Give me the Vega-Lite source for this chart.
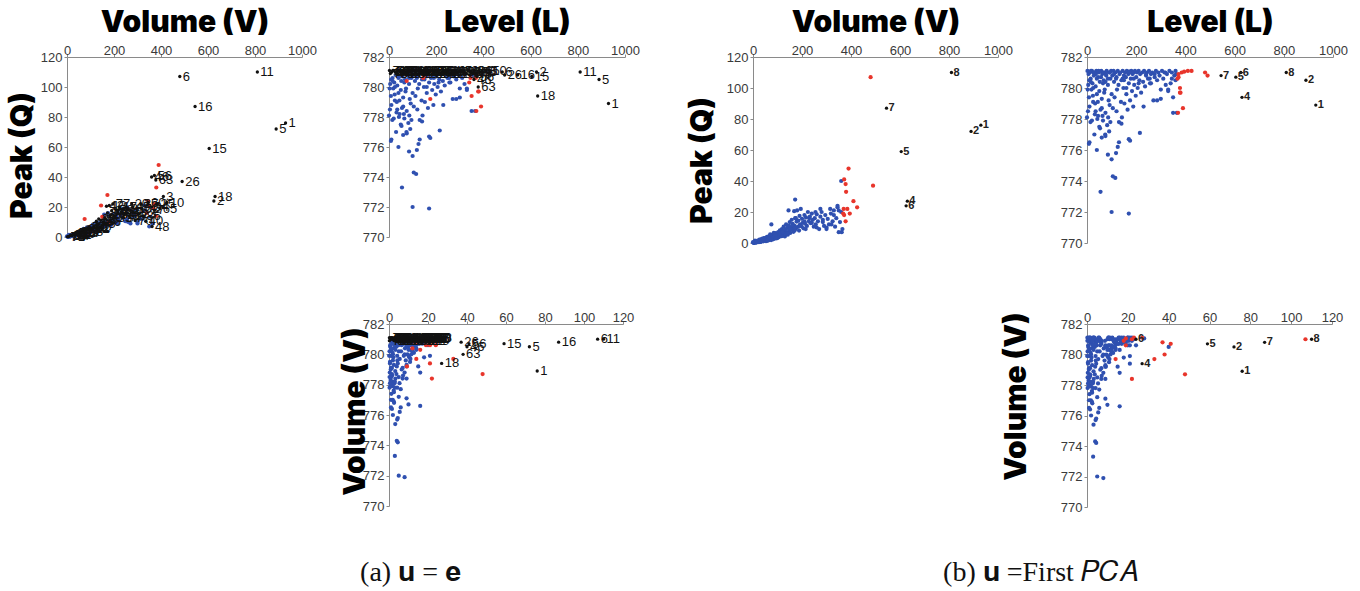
{
  "$schema": "https://vega.github.io/schema/vega-lite/v6.json",
  "padding": {"left": 7, "top": 7, "right": 0, "bottom": 0},
  "background": "white",
  "config": {
    "view": {"stroke": null},
    "axis": {
      "grid": false,
      "domainColor": "#8a8a8a",
      "tickColor": "#8a8a8a",
      "tickSize": 3,
      "labelFont": "Liberation Sans",
      "labelFontSize": 13,
      "labelColor": "#3a3a3a",
      "labelPadding": 2,
      "labelFlush": false,
      "labelOverlap": false,
      "format": "d",
      "titleFont": "Inter",
      "titleFontWeight": 900,
      "titleFontSize": 30,
      "titleColor": "#000000",
      "titlePadding": 4
    },
    "axisTop": {"labelPadding": -3, "titlePadding": 7}
  },
  "datasets": {
    "pts": [
      {"v":2,"q":0.2,"l":781.1,"a":"o","b":"n","ta":"71"},
      {"v":5,"q":0.3,"l":780.2,"a":"n","b":"n"},
      {"v":8,"q":0.5,"l":779.4,"a":"n","b":"n"},
      {"v":10,"q":0.4,"l":778.8,"a":"n","b":"n"},
      {"v":12,"q":0.8,"l":781.0,"a":"o","b":"n","ta":"39"},
      {"v":15,"q":0.6,"l":780.6,"a":"n","b":"n"},
      {"v":18,"q":1.0,"l":779.9,"a":"n","b":"n"},
      {"v":20,"q":0.9,"l":781.1,"a":"o","b":"n","ta":"54"},
      {"v":22,"q":1.2,"l":780.3,"a":"n","b":"n"},
      {"v":25,"q":1.0,"l":779.1,"a":"n","b":"n"},
      {"v":28,"q":1.5,"l":780.8,"a":"n","b":"n"},
      {"v":30,"q":1.3,"l":781.0,"a":"o","b":"n","ta":"82"},
      {"v":32,"q":0.8,"l":778.3,"a":"n","b":"n"},
      {"v":35,"q":1.8,"l":780.1,"a":"n","b":"n"},
      {"v":38,"q":1.6,"l":781.1,"a":"o","b":"n","ta":"47"},
      {"v":40,"q":2.0,"l":779.6,"a":"n","b":"n"},
      {"v":42,"q":1.1,"l":778.0,"a":"n","b":"n"},
      {"v":45,"q":2.4,"l":780.7,"a":"n","b":"n"},
      {"v":48,"q":1.9,"l":781.0,"a":"o","b":"n","ta":"90"},
      {"v":50,"q":2.2,"l":779.8,"a":"n","b":"n"},
      {"v":52,"q":2.8,"l":780.4,"a":"n","b":"n"},
      {"v":55,"q":1.6,"l":778.6,"a":"n","b":"n"},
      {"v":58,"q":3.0,"l":781.1,"a":"o","b":"n","ta":"33"},
      {"v":60,"q":2.5,"l":779.3,"a":"n","b":"n"},
      {"v":62,"q":3.4,"l":780.9,"a":"o","b":"n","ta":"68"},
      {"v":65,"q":2.0,"l":777.9,"a":"n","b":"n"},
      {"v":68,"q":3.8,"l":780.5,"a":"n","b":"n"},
      {"v":70,"q":2.9,"l":781.0,"a":"o","b":"n","ta":"27"},
      {"v":72,"q":4.2,"l":779.9,"a":"n","b":"n"},
      {"v":75,"q":3.3,"l":778.4,"a":"n","b":"n"},
      {"v":78,"q":4.6,"l":780.8,"a":"n","b":"n"},
      {"v":80,"q":3.6,"l":781.1,"a":"o","b":"n","ta":"58"},
      {"v":82,"q":2.4,"l":777.6,"a":"n","b":"n"},
      {"v":85,"q":5.0,"l":780.2,"a":"n","b":"n"},
      {"v":88,"q":4.0,"l":779.2,"a":"n","b":"n"},
      {"v":90,"q":5.5,"l":781.0,"a":"o","b":"n","ta":"44"},
      {"v":92,"q":3.2,"l":778.9,"a":"n","b":"n"},
      {"v":95,"q":4.8,"l":780.6,"a":"n","b":"n"},
      {"v":98,"q":6.0,"l":781.1,"a":"o","b":"n","ta":"19"},
      {"v":100,"q":4.3,"l":779.6,"a":"n","b":"n"},
      {"v":3,"q":0.1,"l":779.9,"a":"n","b":"n"},
      {"v":6,"q":0.2,"l":780.9,"a":"o","b":"n","ta":"75"},
      {"v":4,"q":0.3,"l":778.5,"a":"n","b":"n"},
      {"v":9,"q":0.6,"l":780.5,"a":"n","b":"n"},
      {"v":14,"q":0.3,"l":777.8,"a":"n","b":"n"},
      {"v":16,"q":1.4,"l":781.1,"a":"o","b":"n","ta":"62"},
      {"v":24,"q":0.5,"l":779.5,"a":"n","b":"n"},
      {"v":27,"q":2.2,"l":781.0,"a":"o","b":"n","ta":"38"},
      {"v":33,"q":0.9,"l":779.0,"a":"n","b":"n"},
      {"v":36,"q":2.6,"l":780.9,"a":"o","b":"n","ta":"51"},
      {"v":44,"q":1.5,"l":779.1,"a":"n","b":"n"},
      {"v":47,"q":3.2,"l":781.1,"a":"o","b":"n","ta":"29"},
      {"v":53,"q":1.2,"l":777.4,"a":"n","b":"n"},
      {"v":57,"q":3.9,"l":780.7,"a":"n","b":"n"},
      {"v":63,"q":1.8,"l":778.2,"a":"n","b":"n"},
      {"v":66,"q":4.5,"l":781.0,"a":"o","b":"n","ta":"83"},
      {"v":74,"q":1.9,"l":777.0,"a":"n","b":"n"},
      {"v":77,"q":5.2,"l":780.9,"a":"o","b":"n","ta":"36"},
      {"v":86,"q":2.8,"l":778.1,"a":"n","b":"n"},
      {"v":93,"q":6.4,"l":781.0,"a":"o","b":"n","ta":"57"},
      {"v":103,"q":7.0,"l":780.8,"a":"n","b":"n"},
      {"v":105,"q":3.8,"l":778.7,"a":"n","b":"n"},
      {"v":108,"q":5.6,"l":781.1,"a":"o","b":"n","ta":"12"},
      {"v":110,"q":8.2,"l":780.4,"a":"n","b":"n"},
      {"v":112,"q":4.5,"l":779.4,"a":"n","b":"n"},
      {"v":115,"q":6.6,"l":781.0,"a":"o","b":"n","ta":"85"},
      {"v":118,"q":9.0,"l":780.6,"a":"n","b":"n"},
      {"v":120,"q":5.0,"l":778.5,"a":"n","b":"n"},
      {"v":122,"q":7.6,"l":779.9,"a":"n","b":"n"},
      {"v":125,"q":10.5,"l":781.1,"a":"o","b":"n","ta":"41"},
      {"v":128,"q":6.2,"l":780.2,"a":"n","b":"n"},
      {"v":130,"q":4.2,"l":777.8,"a":"n","b":"n"},
      {"v":132,"q":8.8,"l":780.9,"a":"o","b":"n","ta":"73"},
      {"v":135,"q":12.0,"l":781.0,"a":"o","b":"n","ta":"22"},
      {"v":138,"q":7.0,"l":779.1,"a":"n","b":"n"},
      {"v":140,"q":9.8,"l":780.5,"a":"n","b":"n"},
      {"v":142,"q":5.4,"l":778.1,"a":"n","b":"n"},
      {"v":145,"q":11.2,"l":781.1,"a":"o","b":"n","ta":"95"},
      {"v":148,"q":8.0,"l":780.0,"a":"n","b":"n"},
      {"v":150,"q":13.5,"l":780.8,"a":"r","b":"n"},
      {"v":152,"q":6.5,"l":779.0,"a":"n","b":"n"},
      {"v":155,"q":10.0,"l":781.0,"a":"o","b":"n","ta":"66"},
      {"v":158,"q":15.0,"l":780.7,"a":"n","b":"n"},
      {"v":160,"q":8.6,"l":779.6,"a":"n","b":"n"},
      {"v":162,"q":12.4,"l":781.1,"a":"o","b":"n","ta":"30"},
      {"v":165,"q":7.2,"l":778.6,"a":"n","b":"n"},
      {"v":168,"q":20.5,"l":780.9,"a":"o","b":"n","ta":"42"},
      {"v":170,"q":11.0,"l":780.3,"a":"n","b":"n"},
      {"v":172,"q":16.0,"l":781.0,"a":"o","b":"n","ta":"87"},
      {"v":175,"q":9.2,"l":779.2,"a":"r","b":"n"},
      {"v":178,"q":13.8,"l":780.6,"a":"n","b":"n"},
      {"v":180,"q":21.0,"l":781.1,"a":"o","b":"n","ta":"13"},
      {"v":183,"q":10.4,"l":779.8,"a":"n","b":"n"},
      {"v":185,"q":14.5,"l":780.9,"a":"o","b":"n","ta":"59"},
      {"v":188,"q":8.0,"l":778.8,"a":"n","b":"n"},
      {"v":190,"q":17.5,"l":781.0,"a":"o","b":"n","ta":"24"},
      {"v":192,"q":12.0,"l":780.2,"a":"n","b":"n"},
      {"v":195,"q":22.0,"l":781.1,"a":"o","b":"n","ta":"77"},
      {"v":198,"q":10.8,"l":779.5,"a":"n","b":"n"},
      {"v":200,"q":15.6,"l":780.7,"a":"n","b":"n"},
      {"v":203,"q":13.0,"l":781.0,"a":"o","b":"n","ta":"35"},
      {"v":206,"q":9.5,"l":780.0,"a":"n","b":"n"},
      {"v":210,"q":18.0,"l":781.1,"a":"o","b":"n","ta":"53"},
      {"v":213,"q":12.5,"l":780.5,"a":"n","b":"n"},
      {"v":216,"q":16.5,"l":780.9,"a":"o","b":"n","ta":"92"},
      {"v":220,"q":11.0,"l":779.7,"a":"n","b":"n"},
      {"v":224,"q":20.0,"l":781.0,"a":"o","b":"n","ta":"17"},
      {"v":228,"q":14.0,"l":780.4,"a":"n","b":"n"},
      {"v":232,"q":17.0,"l":781.1,"a":"o","b":"n","ta":"64"},
      {"v":236,"q":12.8,"l":780.1,"a":"n","b":"n"},
      {"v":240,"q":19.0,"l":780.8,"a":"n","b":"n"},
      {"v":244,"q":15.0,"l":781.0,"a":"o","b":"n","ta":"28"},
      {"v":248,"q":10.5,"l":780.6,"a":"n","b":"n"},
      {"v":172,"q":28.0,"l":781.05,"a":"r","b":"n"},
      {"v":145,"q":21.0,"l":780.6,"a":"r","b":"n"},
      {"v":75,"q":12.0,"l":780.4,"a":"r","b":"n"},
      {"v":252,"q":16.0,"l":781.1,"a":"o","b":"n","ta":"69"},
      {"v":256,"q":12.0,"l":780.3,"a":"n","b":"n"},
      {"v":260,"q":18.5,"l":780.9,"a":"o","b":"n","ta":"31"},
      {"v":265,"q":14.0,"l":781.0,"a":"o","b":"n","ta":"89"},
      {"v":270,"q":9.0,"l":779.2,"a":"n","b":"n"},
      {"v":275,"q":17.0,"l":780.7,"a":"n","b":"n"},
      {"v":280,"q":20.0,"l":781.1,"a":"o","b":"n","ta":"45"},
      {"v":285,"q":13.5,"l":780.5,"a":"n","b":"n"},
      {"v":290,"q":11.0,"l":781.0,"a":"o","b":"n","ta":"70"},
      {"v":295,"q":18.0,"l":780.8,"a":"n","b":"n"},
      {"v":300,"q":9.0,"l":779.3,"a":"n","b":"n"},
      {"v":305,"q":15.5,"l":781.1,"a":"o","b":"n","ta":"23"},
      {"v":310,"q":12.0,"l":780.6,"a":"n","b":"n"},
      {"v":318,"q":19.0,"l":781.0,"a":"o","b":"n","ta":"52"},
      {"v":325,"q":14.0,"l":780.9,"a":"o","b":"n","ta":"86"},
      {"v":330,"q":21.0,"l":779.9,"a":"n","b":"n"},
      {"v":335,"q":10.5,"l":781.1,"a":"o","b":"n","ta":"40"},
      {"v":340,"q":16.0,"l":780.3,"a":"r","b":"n"},
      {"v":345,"q":23.0,"l":781.0,"a":"o","b":"n","ta":"60"},
      {"v":350,"q":7.0,"l":778.4,"a":"n","b":"n"},
      {"v":362,"q":7.0,"l":780.9,"a":"o","b":"n","ta":"48"},
      {"v":355,"q":13.5,"l":780.8,"a":"n","b":"n"},
      {"v":360,"q":20.0,"l":781.1,"a":"o","b":"n","ta":"94"},
      {"v":365,"q":9.0,"l":778.4,"a":"n","b":"n"},
      {"v":360,"q":40.0,"l":780.5,"a":"o","b":"n","ta":"46"},
      {"v":345,"q":24.0,"l":780.6,"a":"r","b":"n"},
      {"v":330,"q":18.0,"l":779.8,"a":"n","b":"n"},
      {"v":320,"q":12.0,"l":780.2,"a":"n","b":"n"},
      {"v":300,"q":10.0,"l":779.9,"a":"n","b":"n"},
      {"v":315,"q":22.0,"l":781.0,"a":"o","b":"n","ta":"37"},
      {"v":285,"q":15.0,"l":779.2,"a":"n","b":"n"},
      {"v":260,"q":10.0,"l":780.3,"a":"n","b":"n"},
      {"v":230,"q":16.0,"l":778.8,"a":"n","b":"n"},
      {"v":350,"q":21.0,"l":779.4,"a":"r","b":"n"},
      {"v":100,"q":5.0,"l":772.0,"a":"n","b":"n"},
      {"v":170,"q":8.0,"l":771.9,"a":"n","b":"n"},
      {"v":55,"q":3.0,"l":773.3,"a":"n","b":"n"},
      {"v":105,"q":4.0,"l":774.3,"a":"n","b":"n"},
      {"v":115,"q":4.5,"l":774.2,"a":"n","b":"n"},
      {"v":10,"q":1.0,"l":776.5,"a":"n","b":"n"},
      {"v":8,"q":1.5,"l":776.4,"a":"n","b":"n"},
      {"v":40,"q":2.0,"l":776.0,"a":"n","b":"n"},
      {"v":60,"q":2.6,"l":776.8,"a":"n","b":"n"},
      {"v":85,"q":4.2,"l":775.7,"a":"n","b":"n"},
      {"v":100,"q":3.2,"l":775.4,"a":"n","b":"n"},
      {"v":118,"q":4.5,"l":775.8,"a":"n","b":"n"},
      {"v":125,"q":5.5,"l":776.2,"a":"n","b":"n"},
      {"v":130,"q":6.0,"l":776.5,"a":"n","b":"n"},
      {"v":170,"q":10.0,"l":776.7,"a":"n","b":"n"},
      {"v":175,"q":16.0,"l":776.6,"a":"n","b":"n"},
      {"v":215,"q":9.0,"l":777.1,"a":"n","b":"n"},
      {"v":0,"q":0.5,"l":778.1,"a":"n","b":"n"},
      {"v":30,"q":1.0,"l":777.0,"a":"n","b":"n"},
      {"v":50,"q":2.5,"l":777.5,"a":"n","b":"n"},
      {"v":95,"q":3.0,"l":777.8,"a":"n","b":"n"},
      {"v":75,"q":2.4,"l":776.9,"a":"n","b":"n"},
      {"v":90,"q":5.0,"l":777.2,"a":"n","b":"n"},
      {"v":140,"q":6.0,"l":777.7,"a":"n","b":"n"},
      {"v":35,"q":1.2,"l":778.5,"a":"n","b":"n"},
      {"v":45,"q":3.0,"l":778.2,"a":"n","b":"n"},
      {"v":20,"q":0.8,"l":777.9,"a":"n","b":"n"},
      {"v":60,"q":1.5,"l":778.7,"a":"n","b":"n"},
      {"v":15,"q":1.2,"l":780.4,"a":"n","b":"n"},
      {"v":40,"q":2.8,"l":780.6,"a":"n","b":"n"},
      {"v":65,"q":3.2,"l":780.3,"a":"n","b":"n"},
      {"v":110,"q":6.0,"l":780.9,"a":"o","b":"n","ta":"81"},
      {"v":150,"q":9.0,"l":780.5,"a":"n","b":"n"},
      {"v":190,"q":11.0,"l":780.6,"a":"n","b":"n"},
      {"v":210,"q":14.0,"l":780.3,"a":"n","b":"n"},
      {"v":240,"q":13.0,"l":780.9,"a":"o","b":"n","ta":"34"},
      {"v":120,"q":7.0,"l":780.7,"a":"n","b":"n"},
      {"v":85,"q":6.5,"l":780.6,"a":"n","b":"n"},
      {"v":25,"q":2.0,"l":780.0,"a":"n","b":"n"},
      {"v":70,"q":5.5,"l":779.7,"a":"n","b":"n"},
      {"v":160,"q":11.5,"l":780.0,"a":"n","b":"n"},
      {"v":255,"q":20.0,"l":780.6,"a":"n","b":"n"},
      {"v":275,"q":22.0,"l":780.9,"a":"o","b":"n","ta":"20"},
      {"v":480,"q":107.0,"l":781.0,"a":"o","b":"r","ta":"6"},
      {"v":490,"q":37.0,"l":780.8,"a":"o","b":"r","ta":"26"},
      {"v":390,"q":48.0,"l":778.7,"a":"r","b":"r"},
      {"v":370,"q":22.0,"l":778.4,"a":"r","b":"r"},
      {"v":372,"q":41.0,"l":780.7,"a":"o","b":"r","ta":"56"},
      {"v":378,"q":38.0,"l":780.0,"a":"o","b":"r","ta":"63"},
      {"v":380,"q":33.0,"l":779.7,"a":"r","b":"r"},
      {"v":410,"q":27.0,"l":781.1,"a":"o","b":"r","ta":"3"},
      {"v":425,"q":23.0,"l":781.1,"a":"o","b":"r","ta":"10"},
      {"v":385,"q":22.0,"l":781.0,"a":"o","b":"r","ta":"25"},
      {"v":395,"q":19.0,"l":781.05,"a":"o","b":"r","ta":"65"},
      {"v":378,"q":14.0,"l":779.7,"a":"r","b":"r"},
      {"v":372,"q":18.0,"l":780.9,"a":"o","b":"r","ta":"7"},
      {"v":368,"q":19.0,"l":780.6,"a":"r","b":"r"},
      {"v":810,"q":110.0,"l":781.0,"a":"o","b":"o","ta":"11","tb":"8"},
      {"v":545,"q":87.0,"l":780.8,"a":"o","b":"o","ta":"16","tb":"7"},
      {"v":890,"q":72.0,"l":780.5,"a":"o","b":"o","ta":"5","tb":"2"},
      {"v":930,"q":76.0,"l":778.9,"a":"o","b":"o","ta":"1","tb":"1"},
      {"v":605,"q":59.0,"l":780.7,"a":"o","b":"o","ta":"15","tb":"5"},
      {"v":630,"q":27.0,"l":779.4,"a":"o","b":"o","ta":"18","tb":"4"},
      {"v":625,"q":24.0,"l":781.0,"a":"o","b":"o","ta":"2","tb":"6"}
    ]
  },
  "columns": 7,
  "bounds": "flush",
  "spacing": {"row": 81, "column": 0},
  "concat": [
    {
      "width": 235, "height": 180,
      "data": {"name": "pts"},
      "encoding": {
        "x": {"field": "v", "type": "quantitative", "scale": {"domain": [0, 1000], "nice": false}, "axis": {"orient": "top", "values": [0, 200, 400, 600, 800, 1000], "title": "Volume (V)"}},
        "y": {"field": "q", "type": "quantitative", "scale": {"domain": [0, 120], "nice": false}, "axis": {"values": [0, 20, 40, 60, 80, 100, 120], "title": "Peak (Q)", "titlePadding": 3, "titleY": 98}}
      },
      "layer": [
        {"transform": [{"filter": "datum.a == 'n'"}], "mark": {"type": "circle", "size": 18, "color": "#2f50b0", "opacity": 1}},
        {"transform": [{"filter": "datum.a == 'r'"}], "mark": {"type": "circle", "size": 18, "color": "#e8352b", "opacity": 1}},
        {"transform": [{"filter": "datum.a == 'o'"}], "mark": {"type": "circle", "size": 11, "color": "#111111", "opacity": 1}},
        {"transform": [{"filter": "datum.a == 'o'"}], "mark": {"type": "text", "align": "left", "baseline": "middle", "dx": 3, "font": "Liberation Sans", "fontSize": 13, "color": "#111111"}, "encoding": {"text": {"field": "ta"}}}
      ]
    },
    {"width": 87, "height": 1, "data": {"values": [{}]}, "mark": {"type": "point", "opacity": 0}},
    {
      "width": 236, "height": 180,
      "data": {"name": "pts"},
      "encoding": {
        "x": {"field": "v", "type": "quantitative", "scale": {"domain": [0, 1000], "nice": false}, "axis": {"orient": "top", "values": [0, 200, 400, 600, 800, 1000], "title": "Level (L)"}},
        "y": {"field": "l", "type": "quantitative", "scale": {"domain": [770, 782], "nice": false, "zero": false}, "axis": {"values": [770, 772, 774, 776, 778, 780, 782], "title": null}}
      },
      "layer": [
        {"transform": [{"filter": "datum.a == 'n'"}], "mark": {"type": "circle", "size": 18, "color": "#2f50b0", "opacity": 1}},
        {"transform": [{"filter": "datum.a == 'r'"}], "mark": {"type": "circle", "size": 18, "color": "#e8352b", "opacity": 1}},
        {"transform": [{"filter": "datum.a == 'o'"}], "mark": {"type": "circle", "size": 11, "color": "#111111", "opacity": 1}},
        {"transform": [{"filter": "datum.a == 'o'"}], "mark": {"type": "text", "align": "left", "baseline": "middle", "dx": 3, "font": "Liberation Sans", "fontSize": 13, "color": "#111111"}, "encoding": {"text": {"field": "ta"}}}
      ]
    },
    {"width": 128, "height": 1, "data": {"values": [{}]}, "mark": {"type": "point", "opacity": 0}},
    {
      "width": 245, "height": 186,
      "data": {"name": "pts"},
      "encoding": {
        "x": {"field": "v", "type": "quantitative", "scale": {"domain": [0, 1000], "nice": false}, "axis": {"orient": "top", "values": [0, 200, 400, 600, 800, 1000], "title": "Volume (V)"}},
        "y": {"field": "q", "type": "quantitative", "scale": {"domain": [0, 120], "nice": false}, "axis": {"values": [0, 20, 40, 60, 80, 100, 120], "title": "Peak (Q)", "titlePadding": 9, "titleY": 103}}
      },
      "layer": [
        {"transform": [{"filter": "datum.b == 'n'"}], "mark": {"type": "circle", "size": 18, "color": "#2f50b0", "opacity": 1}},
        {"transform": [{"filter": "datum.b == 'r'"}], "mark": {"type": "circle", "size": 18, "color": "#e8352b", "opacity": 1}},
        {"transform": [{"filter": "datum.b == 'o'"}], "mark": {"type": "circle", "size": 11, "color": "#111111", "opacity": 1}},
        {"transform": [{"filter": "datum.b == 'o'"}], "mark": {"type": "text", "align": "left", "baseline": "middle", "dx": 2, "font": "Liberation Sans", "fontWeight": "bold", "fontSize": 11, "color": "#222222"}, "encoding": {"text": {"field": "tb"}}}
      ]
    },
    {"width": 89, "height": 1, "data": {"values": [{}]}, "mark": {"type": "point", "opacity": 0}},
    {
      "width": 246, "height": 186,
      "data": {"name": "pts"},
      "encoding": {
        "x": {"field": "v", "type": "quantitative", "scale": {"domain": [0, 1000], "nice": false}, "axis": {"orient": "top", "values": [0, 200, 400, 600, 800, 1000], "title": "Level (L)"}},
        "y": {"field": "l", "type": "quantitative", "scale": {"domain": [770, 782], "nice": false, "zero": false}, "axis": {"values": [770, 772, 774, 776, 778, 780, 782], "title": null}}
      },
      "layer": [
        {"transform": [{"filter": "datum.b == 'n'"}], "mark": {"type": "circle", "size": 18, "color": "#2f50b0", "opacity": 1}},
        {"transform": [{"filter": "datum.b == 'r'"}], "mark": {"type": "circle", "size": 18, "color": "#e8352b", "opacity": 1}},
        {"transform": [{"filter": "datum.b == 'o'"}], "mark": {"type": "circle", "size": 11, "color": "#111111", "opacity": 1}},
        {"transform": [{"filter": "datum.b == 'o'"}], "mark": {"type": "text", "align": "left", "baseline": "middle", "dx": 2, "font": "Liberation Sans", "fontWeight": "bold", "fontSize": 11, "color": "#222222"}, "encoding": {"text": {"field": "tb"}}}
      ]
    },
    {
      "width": 235, "height": 183,
      "data": {"values": [{}]},
      "mark": {"type": "point", "opacity": 0},
      "title": {"text": "(a) 𝐮 = 𝐞", "orient": "bottom", "anchor": "middle", "dx": 226, "offset": 52, "font": "Liberation Serif", "fontSize": 28, "fontWeight": "normal", "color": "#111111"}
    },
    {"width": 87, "height": 1, "data": {"values": [{}]}, "mark": {"type": "point", "opacity": 0}},
    {
      "width": 234, "height": 182,
      "data": {"name": "pts"},
      "encoding": {
        "x": {"field": "q", "type": "quantitative", "scale": {"domain": [0, 120], "nice": false}, "axis": {"orient": "top", "values": [0, 20, 40, 60, 80, 100, 120], "title": null}},
        "y": {"field": "l", "type": "quantitative", "scale": {"domain": [770, 782], "nice": false, "zero": false}, "axis": {"values": [770, 772, 774, 776, 778, 780, 782], "title": "Volume (V)", "titlePadding": -8, "titleY": 87}}
      },
      "layer": [
        {"transform": [{"filter": "datum.a == 'n'"}], "mark": {"type": "circle", "size": 18, "color": "#2f50b0", "opacity": 1}},
        {"transform": [{"filter": "datum.a == 'r'"}], "mark": {"type": "circle", "size": 18, "color": "#e8352b", "opacity": 1}},
        {"transform": [{"filter": "datum.a == 'o'"}], "mark": {"type": "circle", "size": 11, "color": "#111111", "opacity": 1}},
        {"transform": [{"filter": "datum.a == 'o'"}], "mark": {"type": "text", "align": "left", "baseline": "middle", "dx": 3, "font": "Liberation Sans", "fontSize": 13, "color": "#111111"}, "encoding": {"text": {"field": "ta"}}}
      ]
    },
    {"width": 128, "height": 1, "data": {"values": [{}]}, "mark": {"type": "point", "opacity": 0}},
    {
      "width": 245, "height": 183,
      "data": {"values": [{}]},
      "mark": {"type": "point", "opacity": 0},
      "title": {"text": "(b) 𝐮 =First 𝑃𝐶𝐴", "orient": "bottom", "anchor": "middle", "dx": 165, "offset": 52, "font": "Liberation Serif", "fontSize": 28, "fontWeight": "normal", "color": "#111111"}
    },
    {"width": 89, "height": 1, "data": {"values": [{}]}, "mark": {"type": "point", "opacity": 0}},
    {
      "width": 245, "height": 183,
      "data": {"name": "pts"},
      "encoding": {
        "x": {"field": "q", "type": "quantitative", "scale": {"domain": [0, 120], "nice": false}, "axis": {"orient": "top", "values": [0, 20, 40, 60, 80, 100, 120], "title": null}},
        "y": {"field": "l", "type": "quantitative", "scale": {"domain": [770, 782], "nice": false, "zero": false}, "axis": {"values": [770, 772, 774, 776, 778, 780, 782], "title": "Volume (V)", "titlePadding": 29, "titleY": 72}}
      },
      "layer": [
        {"transform": [{"filter": "datum.b == 'n'"}], "mark": {"type": "circle", "size": 18, "color": "#2f50b0", "opacity": 1}},
        {"transform": [{"filter": "datum.b == 'r'"}], "mark": {"type": "circle", "size": 18, "color": "#e8352b", "opacity": 1}},
        {"transform": [{"filter": "datum.b == 'o'"}], "mark": {"type": "circle", "size": 11, "color": "#111111", "opacity": 1}},
        {"transform": [{"filter": "datum.b == 'o'"}], "mark": {"type": "text", "align": "left", "baseline": "middle", "dx": 2, "font": "Liberation Sans", "fontWeight": "bold", "fontSize": 11, "color": "#222222"}, "encoding": {"text": {"field": "tb"}}}
      ]
    }
  ]
}
